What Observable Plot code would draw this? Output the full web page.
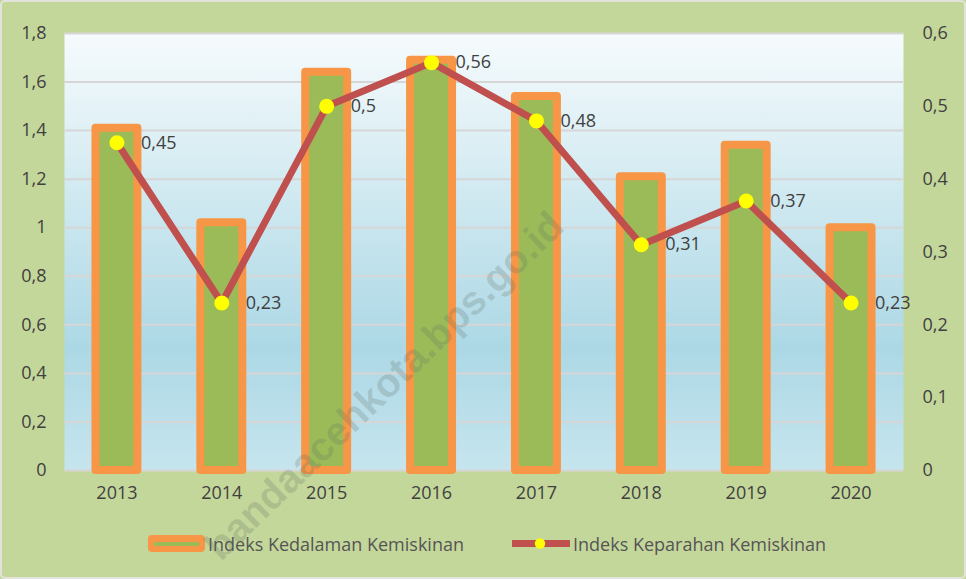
<!DOCTYPE html>
<html>
<head>
<meta charset="utf-8">
<script src="https://cdn.jsdelivr.net/npm/d3@7"></script>
<script src="https://cdn.jsdelivr.net/npm/@observablehq/plot@0.6"></script>
<style>
  html, body { margin: 0; padding: 0; }
  body { width: 966px; height: 579px; background: #c4d79b; position: relative; overflow: hidden; font-family: "Open Sans", "Noto Sans", sans-serif; }
  #chart { position: absolute; left: 0; top: 0; }
  #legend { position: absolute; left: 0; top: 515px; width: 966px; height: 64px; }
  .item { position: absolute; top: 19px; height: 20px; display: flex; align-items: center; font-size: 18px; color: #555555; white-space: nowrap; }
  .item svg { display: block; margin-right: 2px; }
  #frameline { position: absolute; left: 0; top: 0; width: 966px; height: 579px; box-sizing: border-box; border: 2px solid #e2e4dc; border-radius: 5px; pointer-events: none; }
  #wm { position: absolute; left: 0; top: 0; pointer-events: none; }
</style>
</head>
<body>
<div id="chart"></div>
<div id="legend"></div>
<div id="frameline"></div>
<script>
const years = ["2013", "2014", "2015", "2016", "2017", "2018", "2019", "2020"];
const kedalaman = [1.41, 1.02, 1.64, 1.69, 1.54, 1.21, 1.34, 1.00];
const keparahan = [0.45, 0.23, 0.50, 0.56, 0.48, 0.31, 0.37, 0.23];
const leftTicks = [0, 0.2, 0.4, 0.6, 0.8, 1.0, 1.2, 1.4, 1.6, 1.8];
const rightTicks = [0, 0.1, 0.2, 0.3, 0.4, 0.5, 0.6];
const seriesNames = ["Indeks Kedalaman Kemiskinan", "Indeks Keparahan Kemiskinan"];
const watermark = "bandaacehkota.bps.go.id";
const leftMax = 1.8, rightMax = 0.6;
const ratio = leftMax / rightMax;

const fmt = d => String(+(+d).toFixed(2)).replace(".", ",");

const barData = years.map((y, i) => ({year: y, value: kedalaman[i]}));
const lineData = years.map((y, i) => ({year: y, value: keparahan[i], scaled: keparahan[i] * ratio}));

const textColor = "#404040";
const font = "'Open Sans', 'Noto Sans', sans-serif";

const chart = Plot.plot({
  width: 966,
  height: 515,
  marginTop: 33,
  marginBottom: 45,
  marginLeft: 64,
  marginRight: 63,
  style: {fontFamily: font, fontSize: "18px", color: textColor, background: "transparent", overflow: "visible"},
  x: {type: "band", domain: years, paddingInner: 0.6, paddingOuter: 0.3, round: false, axis: null, label: null},
  y: {domain: [0, leftMax], axis: null, label: null},
  marks: [
    Plot.frame({fill: "url(#plotbg)", stroke: null}),
    Plot.gridY(leftTicks, {stroke: "#d6d6d6", strokeOpacity: 1, strokeWidth: 2}),
    Plot.barY(barData, {x: "year", y: "value", fill: "#9bbb59", stroke: "#f79646", strokeWidth: 8, strokeLinejoin: "round"}),
    Plot.line(lineData, {x: "year", y: "scaled", stroke: "#c0504d", strokeWidth: 7, strokeLinejoin: "round"}),
    Plot.dot(lineData, {x: "year", y: "scaled", r: 7.5, fill: "#ffff00", stroke: null}),
    Plot.text(lineData, {x: "year", y: "scaled", text: d => fmt(d.value), dx: 24, textAnchor: "start", fill: textColor, fontSize: 18}),
    Plot.axisY({anchor: "left", ticks: leftTicks, tickSize: 0, tickPadding: 18, tickFormat: fmt, fontSize: 18, fill: textColor, label: null}),
    Plot.axisY({anchor: "right", ticks: rightTicks.map(t => t * ratio), tickSize: 0, tickPadding: 19, tickFormat: d => fmt(d / ratio), fontSize: 18, fill: textColor, label: null}),
    Plot.axisX({anchor: "bottom", tickSize: 0, tickPadding: 16, fontSize: 18, fill: textColor, label: null})
  ]
});

// gradient definition for the plot background
const svgEl = chart.tagName.toLowerCase() === "svg" ? chart : chart.querySelector("svg");
const defs = d3.select(svgEl).insert("defs", ":first-child");
const grad = defs.append("linearGradient").attr("id", "plotbg").attr("x1", 0).attr("y1", 0).attr("x2", 0).attr("y2", 1);
grad.append("stop").attr("offset", "0%").attr("stop-color", "#f6fbfd");
grad.append("stop").attr("offset", "72%").attr("stop-color", "#acd8e5");
grad.append("stop").attr("offset", "100%").attr("stop-color", "#c6e5ee");

document.getElementById("chart").appendChild(chart);

// legend
const legend = document.getElementById("legend");
const item1 = document.createElement("div");
item1.className = "item";
item1.style.left = "147px";
item1.innerHTML = `<svg width="59" height="20"><rect x="2" y="2" width="55" height="15" rx="3" fill="#f79646" stroke="#f79646" stroke-width="2"/><rect x="7" y="8" width="45" height="4" fill="#9bbb59"/></svg><span>${seriesNames[0]}</span>`;
legend.appendChild(item1);
const item2 = document.createElement("div");
item2.className = "item";
item2.style.left = "512px";
item2.innerHTML = `<svg width="59" height="20"><line x1="0" x2="58" y1="9.5" y2="9.5" stroke="#c0504d" stroke-width="7"/><circle cx="28" cy="9.5" r="5.2" fill="#ffff00"/></svg><span>${seriesNames[1]}</span>`;
legend.appendChild(item2);

// watermark
const wm = d3.select("body").append("svg").attr("id", "wm").attr("width", 966).attr("height", 579);
wm.append("text")
  .attr("transform", "translate(386,388) rotate(-44)")
  .attr("text-anchor", "middle")
  .attr("dominant-baseline", "middle")
  .attr("font-family", "'Liberation Sans', Arial, sans-serif")
  .attr("font-weight", "bold")
  .attr("font-size", 40)
  .attr("fill", "rgba(95,105,95,0.22)")
  .text(watermark);
</script>
</body>
</html>
